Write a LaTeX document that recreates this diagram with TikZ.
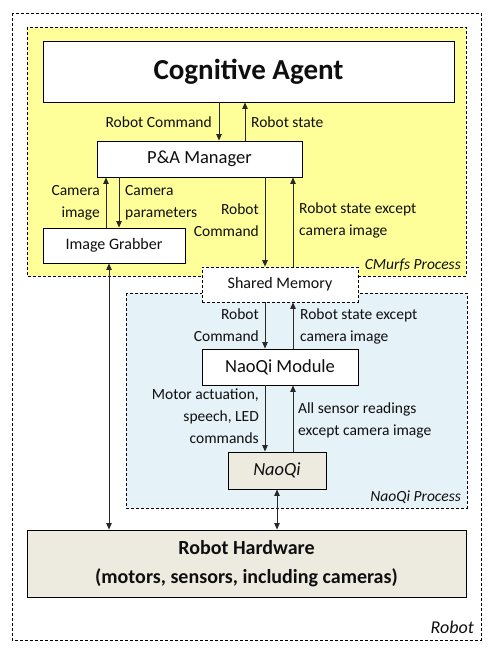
\documentclass[tikz,border=0pt]{standalone}
\usepackage{fontspec}
\setmainfont{Carlito}
\usetikzlibrary{arrows.meta}
\definecolor{cmyel}{RGB}{255,255,153}
\definecolor{nqblue}{RGB}{229,242,248}
\definecolor{hwbeige}{RGB}{237,234,224}
\definecolor{txt}{RGB}{15,15,15}
\definecolor{arrc}{RGB}{40,40,40}
\begin{document}
\begin{tikzpicture}[x=1pt,y=-1pt,
  box/.style={draw=black, line width=0.9pt, fill=white, inner sep=0pt, text=txt},
  region/.style={draw=black, line width=0.7pt, dash pattern=on 3pt off 2pt},
  lbl/.style={font=\fontsize{15.5}{22}\selectfont, inner sep=0pt, text=txt},
  ttl/.style={font=\itshape\fontsize{15.5}{18}\selectfont, inner sep=0pt, text=txt},
  arr/.style={-{Triangle[length=6.5pt,width=5.5pt]}, line width=0.9pt, draw=arrc},
  darr/.style={{Triangle[length=6.5pt,width=5.5pt]}-{Triangle[length=6.5pt,width=5.5pt]}, line width=0.9pt, draw=arrc}]
\useasboundingbox (0,0) rectangle (496,653);
\fill[white] (0,0) rectangle (496,653);
% regions
\draw[region] (12,13) rectangle (481,640);
\node[ttl, font=\itshape\fontsize{18}{20}\selectfont, anchor=east] (robotlbl) at (474,627) {Robot};
\draw[region, fill=cmyel] (27,27) rectangle (466,276);
\node[ttl, anchor=east] (cmlbl) at (461,265) {CMurfs Process};
\draw[region, fill=nqblue] (126,293) rectangle (467,508);
\node[ttl, anchor=east] (nqlbl) at (461,497) {NaoQi Process};
% boxes
\node[box, minimum width=411, minimum height=61, font=\bfseries\fontsize{29}{32}\selectfont] (ca) at (248.5,71.5) {Cognitive Agent};
\node[box, minimum width=205, minimum height=36, font=\fontsize{18.5}{20}\selectfont] (pa) at (199.5,159) {P\&A Manager};
\node[box, minimum width=142, minimum height=35, font=\fontsize{16}{18}\selectfont] (ig) at (114,245.5) {Image Grabber};
\node[box, dash pattern=on 3pt off 2pt, line width=0.7pt, minimum width=156, minimum height=35, font=\fontsize{16}{18}\selectfont] (sm) at (280,284.5) {Shared Memory};
\node[box, minimum width=156, minimum height=36, font=\fontsize{18.5}{20}\selectfont] (nm) at (280,367) {NaoQi Module};
\node[box, fill=hwbeige, minimum width=98, minimum height=37, font=\itshape\fontsize{18.5}{20}\selectfont] (nq) at (277,470.5) {NaoQi};
\node[box, fill=hwbeige, minimum width=439, minimum height=67, align=center, font=\bfseries\fontsize{20}{29}\selectfont] (hw) at (246.5,563.5) {Robot Hardware\\(motors, sensors, including cameras)};
% x positions of connectors
\coordinate (x1) at (219,0);
\coordinate (x2) at (245,0);
\coordinate (x3) at (106,0);
\coordinate (x4) at (119,0);
\coordinate (x5) at (265,0);
\coordinate (x6) at (293,0);
\coordinate (x7) at (109,0);
\coordinate (x8) at (277,0);
% connectors
\draw[arr] (ca.south -| x1) -- (pa.north -| x1);
\draw[arr] (pa.north -| x2) -- (ca.south -| x2);
\draw[arr] (ig.north -| x3) -- (pa.south -| x3);
\draw[arr] (pa.south -| x4) -- (ig.north -| x4);
\draw[arr] (pa.south -| x5) -- (sm.north -| x5);
\draw[arr] (sm.north -| x6) -- (pa.south -| x6);
\draw[arr] (sm.south -| x5) -- (nm.north -| x5);
\draw[arr] (nm.north -| x6) -- (sm.south -| x6);
\draw[arr] (nm.south -| x5) -- (nq.north -| x5);
\draw[arr] (nq.north -| x6) -- (nm.south -| x6);
\draw[darr] (ig.south -| x7) -- (hw.north -| x7);
\draw[darr] (nq.south -| x8) -- (hw.north -| x8);
% labels
\node[lbl, anchor=east] (l1) at (212,122) {Robot Command};
\node[lbl, anchor=west] (l2) at (251,122) {Robot state};
\node[lbl, anchor=east, align=right] (l3) at (100,203) {Camera\\image};
\node[lbl, anchor=west, align=left] (l4) at (125,203) {Camera\\parameters};
\node[lbl, anchor=east, align=right] (l5) at (259,220) {Robot\\Command};
\node[lbl, anchor=west, align=left] (l6) at (299,220) {Robot state except\\camera image};
\node[lbl, anchor=east, align=right] (l7) at (259,325) {Robot\\Command};
\node[lbl, anchor=west, align=left] (l8) at (300,326) {Robot state except\\camera image};
\node[lbl, anchor=east, align=right] (l9) at (259,416.5) {Motor actuation,\\speech, LED\\commands};
\node[lbl, anchor=west, align=left] (l10) at (298,420) {All sensor readings\\except camera image};
\end{tikzpicture}
\end{document}
